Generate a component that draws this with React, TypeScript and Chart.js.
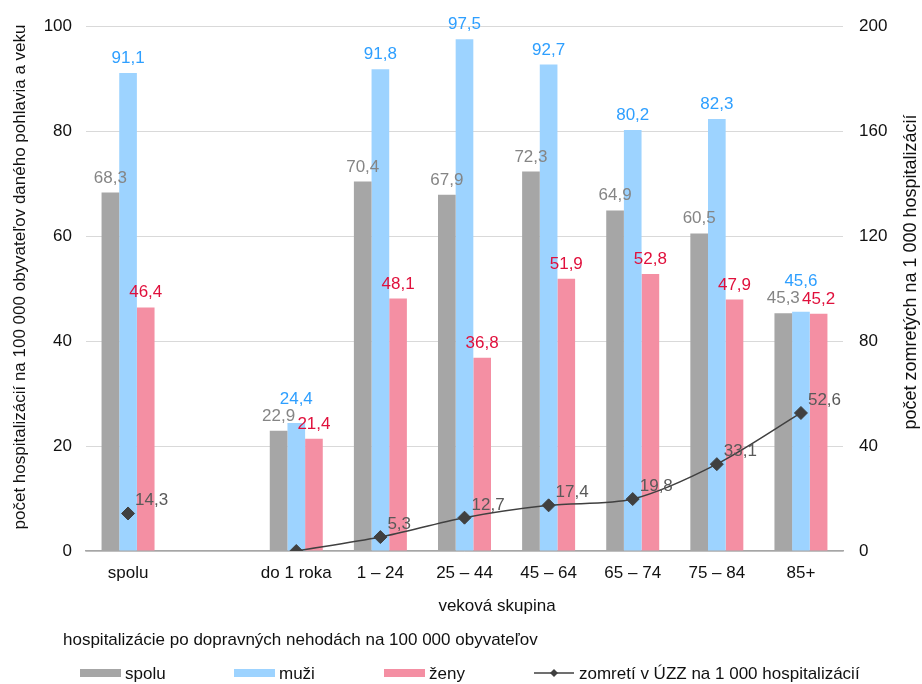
import React, { useEffect, useRef } from 'react';
import { Chart, registerables } from 'chart.js';

Chart.register(...registerables);

const categories = ['spolu', '', 'do 1 roka', '1 – 24', '25 – 44', '45 – 64', '65 – 74', '75 – 84', '85+'];
const spoluValues = [68.3, null, 22.9, 70.4, 67.9, 72.3, 64.9, 60.5, 45.3];
const muziValues = [91.1, null, 24.4, 91.8, 97.5, 92.7, 80.2, 82.3, 45.6];
const zenyValues = [46.4, null, 21.4, 48.1, 36.8, 51.9, 52.8, 47.9, 45.2];
const zomretiValues = [14.3, null, 0, 5.3, 12.7, 17.4, 19.8, 33.1, 52.6];
const leftTicks = [0, 20, 40, 60, 80, 100];
const rightTicks = [0, 40, 80, 120, 160, 200];

const seriesNames = ['spolu', 'muži', 'ženy', 'zomretí v ÚZZ na 1 000 hospitalizácií'];
const leftTitle = 'počet hospitalizácií na 100 000 obyvateľov daného pohlavia a veku';
const rightTitle = 'počet zomretých na 1 000 hospitalizácií';
const xTitle = 'veková skupina';
const legendTitle = 'hospitalizácie po dopravných nehodách na 100 000 obyvateľov';

const FONT = '"Liberation Sans", Arial, sans-serif';
const GRAY = '#A6A6A6';
const BLUE = '#9DD3FF';
const PINK = '#F48FA3';
const LINE = '#404040';
const LABEL_COLORS = ['#858585', '#2E9FFF', '#E0103C'];
const TEXT = '#111111';

const fmt = (v: number) => v.toFixed(1).replace('.', ',');

const overlayPlugin = {
  id: 'overlay',
  afterDatasetsDraw(chart: any) {
    const ctx = chart.ctx;
    ctx.save();
    ctx.font = `17px ${FONT}`;
    ctx.textBaseline = 'alphabetic';
    const n = categories.length;
    const H = 12;
    for (let i = 0; i < n; i++) {
      const placed: any[] = [];
      for (let di = 0; di < 3; di++) {
        const v = chart.data.datasets[di].data[i];
        if (v == null) continue;
        const el = chart.getDatasetMeta(di).data[i];
        const text = fmt(v);
        const w = ctx.measureText(text).width;
        const cx = el.x;
        let base = el.y - 10;
        let moved = true;
        let guard = 0;
        while (moved && guard < 10) {
          moved = false;
          guard++;
          for (const p of placed) {
            const l = cx - w / 2, r = cx + w / 2, t = base - H, b = base;
            if (l < p.r && r > p.l && t < p.b + 2 && b > p.t - 2) {
              base = p.t - 5;
              moved = true;
            }
          }
        }
        placed.push({ l: cx - w / 2, r: cx + w / 2, t: base - H, b: base });
        ctx.fillStyle = LABEL_COLORS[di];
        ctx.textAlign = 'center';
        ctx.fillText(text, cx, base);
      }
    }
    // line labels
    const meta = chart.getDatasetMeta(3);
    ctx.fillStyle = '#595959';
    ctx.textAlign = 'left';
    for (let i = 0; i < n; i++) {
      const v = chart.data.datasets[3].data[i];
      if (v == null || v === 0) continue;
      const el = meta.data[i];
      ctx.fillText(fmt(v), el.x + 7, el.y - 8);
    }
    ctx.restore();
  },
  afterDraw(chart: any) {
    const ctx = chart.ctx;
    ctx.save();
    ctx.fillStyle = TEXT;
    // axis titles
    ctx.font = `17px ${FONT}`;
    ctx.textAlign = 'center';
    ctx.textBaseline = 'middle';
    ctx.save();
    ctx.translate(20, 277);
    ctx.rotate(-Math.PI / 2);
    ctx.fillText(leftTitle, 0, 0);
    ctx.restore();
    ctx.save();
    ctx.font = `18px ${FONT}`;
    ctx.translate(911, 272);
    ctx.rotate(-Math.PI / 2);
    ctx.fillText(rightTitle, 0, 0);
    ctx.restore();
    // x title
    ctx.textBaseline = 'alphabetic';
    ctx.textAlign = 'center';
    ctx.fillText(xTitle, 497, 611);
    // legend title
    ctx.textAlign = 'left';
    ctx.fillText(legendTitle, 63, 645);
    // legend items
    const colors = [GRAY, BLUE, PINK];
    const xs = [80, 234, 384];
    for (let k = 0; k < 3; k++) {
      ctx.fillStyle = colors[k];
      ctx.fillRect(xs[k], 669, 41, 8);
      ctx.fillStyle = TEXT;
      ctx.fillText(chart.data.datasets[k].label, xs[k] + 45, 679);
    }
    // line legend
    ctx.strokeStyle = LINE;
    ctx.lineWidth = 1.5;
    ctx.beginPath();
    ctx.moveTo(534, 673);
    ctx.lineTo(574, 673);
    ctx.stroke();
    ctx.fillStyle = LINE;
    ctx.beginPath();
    ctx.moveTo(554, 669);
    ctx.lineTo(558, 673);
    ctx.lineTo(554, 677);
    ctx.lineTo(550, 673);
    ctx.closePath();
    ctx.fill();
    ctx.fillStyle = TEXT;
    ctx.fillText(chart.data.datasets[3].label, 579, 679);
    ctx.restore();
  },
};

export default function App() {
  const ref = useRef<HTMLCanvasElement | null>(null);
  useEffect(() => {
    document.body.style.margin = '0';
    const canvas = ref.current;
    if (!canvas) return;
    const tickFont = { size: 17, family: FONT };
    const chart = new Chart(canvas, {
      type: 'bar',
      data: {
        labels: categories,
        datasets: [
          { label: seriesNames[0], data: spoluValues, backgroundColor: GRAY, yAxisID: 'y', order: 2 } as any,
          { label: seriesNames[1], data: muziValues, backgroundColor: BLUE, yAxisID: 'y', order: 2 } as any,
          { label: seriesNames[2], data: zenyValues, backgroundColor: PINK, yAxisID: 'y', order: 2 } as any,
          {
            type: 'line',
            label: seriesNames[3],
            data: zomretiValues,
            yAxisID: 'y1',
            borderColor: LINE,
            borderWidth: 1.5,
            pointStyle: 'rectRot',
            pointRadius: 6.5,
            pointBackgroundColor: LINE,
            pointBorderColor: LINE,
            pointBorderWidth: 1,
            tension: 0.3,
            spanGaps: false,
            order: 1,
          } as any,
        ],
      },
      options: {
        responsive: false,
        animation: false,
        devicePixelRatio: 1,
        layout: { padding: { top: 18, left: 0, right: 0, bottom: 0 } },
        plugins: { legend: { display: false }, tooltip: { enabled: false } },
        datasets: { bar: { categoryPercentage: 0.63, barPercentage: 1 } } as any,
        scales: {
          x: {
            grid: { display: false, drawTicks: false },
            border: { display: true, color: '#A6A6A6', width: 1.5 },
            ticks: { font: tickFont, color: TEXT, padding: 12, maxRotation: 0, autoSkip: false },
            afterFit: (s: any) => { s.height = 133; },
          },
          y: {
            position: 'left',
            min: leftTicks[0],
            max: leftTicks[leftTicks.length - 1],
            ticks: { stepSize: leftTicks[1] - leftTicks[0], font: tickFont, color: TEXT, padding: 14 },
            grid: { color: '#D9D9D9', drawTicks: false },
            border: { display: false },
            afterFit: (s: any) => { s.width = 86; },
          },
          y1: {
            position: 'right',
            min: rightTicks[0],
            max: rightTicks[rightTicks.length - 1],
            ticks: { stepSize: rightTicks[1] - rightTicks[0], font: tickFont, color: TEXT, padding: 16 },
            grid: { display: false, drawTicks: false },
            border: { display: false },
            afterFit: (s: any) => { s.width = 79; },
          },
        },
      } as any,
      plugins: [overlayPlugin],
    });
    return () => chart.destroy();
  }, []);
  return (
    <div style={{ position: 'absolute', left: 0, top: 0, width: 922, height: 684 }}>
      <canvas ref={ref} width={922} height={684} style={{ display: 'block' }} />
    </div>
  );
}
